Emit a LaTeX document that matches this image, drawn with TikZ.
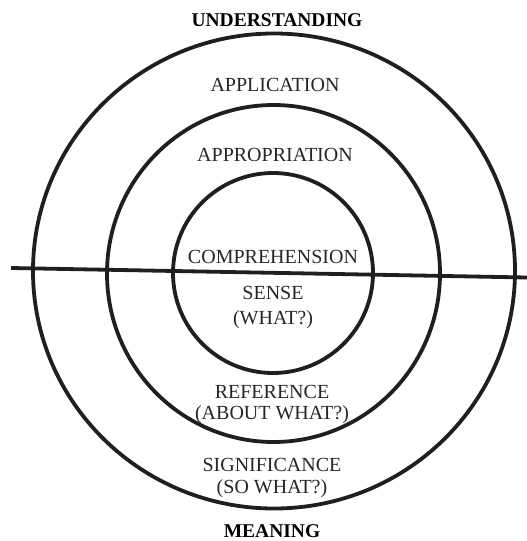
\documentclass[tikz,border=0pt]{standalone}
\usepackage{fontspec}
\setmainfont{Liberation Serif}
\usepackage{tikz}

\begin{document}
\begin{tikzpicture}[x=1pt,y=-1pt,
  ring/.style={line width=3.8pt,color=black!88},
  lbl/.style={anchor=base,inner sep=0pt,text=black!85,font=\fontsize{20}{22}\selectfont},
  head/.style={anchor=base,inner sep=0pt,font=\fontsize{19.5}{22}\selectfont\bfseries}]
\useasboundingbox (0,0) rectangle (527,541);
\node[coordinate] (c1) at (273,273) {};
\node[coordinate] (c2) at (273.5,273.5) {};
\node[coordinate] (c3) at (274,271) {};
\node[coordinate] (l) at (11,268) {};
\node[coordinate] (r) at (527,277.5) {};

% the three rings
\draw[ring] (c1) circle (100);
\draw[ring] (c2) ellipse (166.5 and 168.5);
\draw[ring] (c3) ellipse (241 and 237.5);

% the dividing line
\draw[ring] (l) -- (r);

% labels
\node[head] (understanding) at (277,26) {UNDERSTANDING};
\node[lbl] (application) at (275,91.5) {APPLICATION};
\node[lbl] (appropriation) at (275,161.5) {APPROPRIATION};
\node[lbl] (comprehension) at (273,263.5) {COMPREHENSION};
\node[lbl] (sense) at (273,299.5) {SENSE};
\node[lbl] (what) at (273,324.5) {(WHAT?)};
\node[lbl] (reference) at (272,398.5) {REFERENCE};
\node[lbl] (aboutwhat) at (272,419.5) {(ABOUT WHAT?)};
\node[lbl] (significance) at (272,471.5) {SIGNIFICANCE};
\node[lbl] (sowhat) at (272,493.5) {(SO WHAT?)};
\node[head] (meaning) at (272,537) {MEANING};
\end{tikzpicture}
\end{document}
